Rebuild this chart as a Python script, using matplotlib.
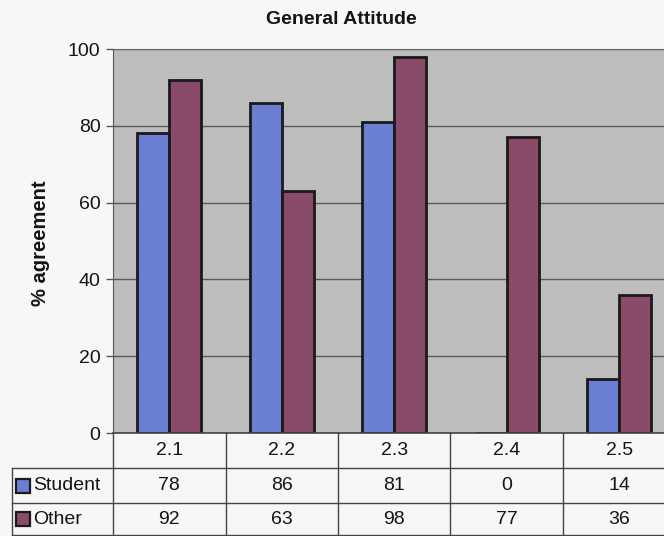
import matplotlib
matplotlib.use("Agg")
import matplotlib.pyplot as plt
import matplotlib.transforms as mtransforms
from matplotlib.patches import Rectangle

# chart data
categories = ["2.1", "2.2", "2.3", "2.4", "2.5"]
student = [78, 86, 81, 0, 14]
other = [92, 63, 98, 77, 36]
series_names = ["Student", "Other"]
series_colors = ["#6a7fd4", "#8a4a6a"]
yticks = [0, 20, 40, 60, 80, 100]

W, H = 664, 536
FS = 14
plt.rcParams['font.family'] = ['Liberation Sans', 'DejaVu Sans']

fig = plt.figure(figsize=(W / 100, H / 100), dpi=100)
fig.patch.set_facecolor("#f7f7f5")

# plot area runs a little past the right edge, as in the reference
ax_left, ax_right, ax_top, ax_bottom = 113, 675.5, 49, 433
ax = fig.add_axes([ax_left / W, (H - ax_bottom) / H,
                   (ax_right - ax_left) / W, (ax_bottom - ax_top) / H])
ax.set_facecolor("#bdbdbd")

x = list(range(len(categories)))
bw = 1 / 3.5
ax.bar([i - bw / 2 for i in x], student, width=bw, color=series_colors[0],
       edgecolor="#1a1a1a", linewidth=2, zorder=3)
ax.bar([i + bw / 2 for i in x], other, width=bw, color=series_colors[1],
       edgecolor="#1a1a1a", linewidth=2, zorder=3)

ax.set_xlim(-0.5, len(categories) - 0.5)
ax.set_ylim(0, 100)
ax.set_yticks(yticks)
ax.tick_params(axis="y", labelsize=FS, length=5, width=1, color="#555555",
               pad=4, labelcolor="#141414")
ax.set_xticks([])
ax.yaxis.grid(True, color="#5a5a5a", linewidth=1, zorder=1)
ax.spines["right"].set_visible(False)
ax.spines["top"].set_color("#666666")
ax.spines["left"].set_color("#555555")
ax.spines["bottom"].set_color("#444444")
ax.spines["bottom"].set_linewidth(1.2)
ax.spines["bottom"].set_zorder(4)

fig.text(341 / W, 1 - 19 / H, "General Attitude", ha="center", va="center",
         fontsize=14, fontweight="bold", color="#141414")
fig.text(40 / W, 1 - 243 / H, "% agreement", ha="center", va="center",
         rotation=90, fontsize=14.5, fontweight="bold", color="#141414")

# data table under the plot
tr = mtransforms.blended_transform_factory(ax.transData, fig.transFigure)
row_edges = [433, 468, 503, 535]
fy = lambda py: 1 - py / H
line_kw = dict(color="#444444", linewidth=1, clip_on=False)

for i in range(len(categories) + 1):
    ax.plot([i - 0.5, i - 0.5], [fy(row_edges[0]), fy(row_edges[-1])],
            transform=tr, **line_kw)
for py in row_edges[1:]:
    fig.add_artist(plt.Line2D([12 / W, 1], [fy(py), fy(py)], **line_kw))
fig.add_artist(plt.Line2D([12 / W, 12 / W], [fy(row_edges[1]), fy(row_edges[-1])],
                          **line_kw))

def cell_y(r):
    return fy((row_edges[r] + row_edges[r + 1]) / 2)

for i, c in enumerate(categories):
    ax.text(i, cell_y(0), c, transform=tr, ha="center", va="center",
            fontsize=FS, color="#141414")
for r, vals in enumerate([student, other]):
    for i, v in enumerate(vals):
        ax.text(i, cell_y(r + 1), str(v), transform=tr, ha="center", va="center",
                fontsize=FS, color="#141414")
    yc = cell_y(r + 1)
    fig.add_artist(Rectangle((16 / W, yc - 7 / H), 14 / W, 14 / H,
                             facecolor=series_colors[r], edgecolor="#1a1a1a",
                             linewidth=1.6, transform=fig.transFigure))
    fig.text(33 / W, yc, series_names[r], ha="left", va="center",
             fontsize=FS, color="#141414")

fig.savefig("out.png", dpi=100, facecolor=fig.get_facecolor())
